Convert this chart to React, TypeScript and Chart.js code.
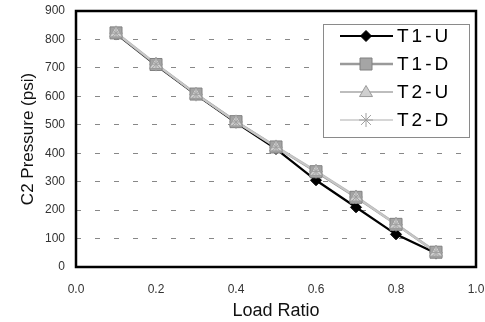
import React, { useEffect, useRef } from "react";
import { Chart, registerables } from "chart.js";

Chart.register(...registerables);

const loadRatio = [0.1, 0.2, 0.3, 0.4, 0.5, 0.6, 0.7, 0.8, 0.9];
const t1u = [820, 710, 606, 508, 415, 305, 210, 115, 48];
const t1d = [823, 712, 608, 511, 422, 335, 245, 150, 52];
const t2u = [825, 714, 609, 512, 424, 338, 248, 152, 54];
const t2d = [822, 713, 607, 510, 421, 336, 246, 149, 51];
const seriesNames = ["T1-U", "T1-D", "T2-U", "T2-D"];
const xTicks = [0, 0.2, 0.4, 0.6, 0.8, 1.0];

const FONT = "'Liberation Sans', Arial, sans-serif";

type Style = {
  line: string;
  width: number;
  shape: string;
  fill: string;
  stroke: string;
  r: number;
};

const styles: Style[] = [
  { line: "#000000", width: 2.2, shape: "diamond", fill: "#000000", stroke: "#000000", r: 5.5 },
  { line: "#9a9a9a", width: 2.5, shape: "square", fill: "#a5a5a5", stroke: "#808080", r: 6 },
  { line: "#bdbdbd", width: 2, shape: "triangle", fill: "#cfcfcf", stroke: "#9a9a9a", r: 6.5 },
  { line: "#c8c8c8", width: 1.5, shape: "star", fill: "#dddddd", stroke: "#a0a0a0", r: 7 },
];

function drawMarker(ctx: CanvasRenderingContext2D, s: Style, x: number, y: number) {
  ctx.save();
  ctx.fillStyle = s.fill;
  ctx.strokeStyle = s.stroke;
  ctx.lineWidth = 1;
  const r = s.r;
  ctx.beginPath();
  if (s.shape === "diamond") {
    ctx.moveTo(x, y - r);
    ctx.lineTo(x + r, y);
    ctx.lineTo(x, y + r);
    ctx.lineTo(x - r, y);
    ctx.closePath();
    ctx.fill();
    ctx.stroke();
  } else if (s.shape === "square") {
    ctx.rect(x - r, y - r, 2 * r, 2 * r);
    ctx.fill();
    ctx.stroke();
  } else if (s.shape === "triangle") {
    ctx.moveTo(x, y - r);
    ctx.lineTo(x + r, y + r * 0.7);
    ctx.lineTo(x - r, y + r * 0.7);
    ctx.closePath();
    ctx.fill();
    ctx.stroke();
  } else {
    for (let i = 0; i < 4; i++) {
      const a = (i * Math.PI) / 4;
      ctx.moveTo(x - r * Math.cos(a), y - r * Math.sin(a));
      ctx.lineTo(x + r * Math.cos(a), y + r * Math.sin(a));
    }
    ctx.stroke();
  }
  ctx.restore();
}

const framePlugin = {
  id: "frameAndLegend",
  afterDraw(chart: any) {
    const { ctx, chartArea } = chart;
    const { left, right, top, bottom } = chartArea;
    ctx.save();
    ctx.strokeStyle = "#000";
    ctx.lineWidth = 2.5;
    ctx.strokeRect(left, top, right - left, bottom - top);

    const bx = right - 153;
    const by = top + 13;
    const bw = 146;
    const bh = 113;
    ctx.fillStyle = "#ffffff";
    ctx.fillRect(bx, by, bw, bh);
    ctx.strokeStyle = "#8a8a8a";
    ctx.lineWidth = 1;
    ctx.strokeRect(bx + 0.5, by + 0.5, bw, bh);
    seriesNames.forEach((name, i) => {
      const s = styles[i];
      const y = by + 12 + i * 28;
      ctx.strokeStyle = s.line;
      ctx.lineWidth = s.width;
      ctx.beginPath();
      ctx.moveTo(bx + 17, y);
      ctx.lineTo(bx + 70, y);
      ctx.stroke();
      drawMarker(ctx, s, bx + 43, y);
      ctx.fillStyle = "#000";
      ctx.font = `19px ${FONT}`;
      (ctx as any).letterSpacing = "3px";
      ctx.textAlign = "left";
      ctx.textBaseline = "middle";
      ctx.fillText(name, bx + 74, y + 1);
      (ctx as any).letterSpacing = "0px";
    });
    ctx.restore();
  },
};

export default function App() {
  const ref = useRef<HTMLCanvasElement | null>(null);

  useEffect(() => {
    if (!ref.current) return;
    const seriesValues = [t1u, t1d, t2u, t2d];
    const order = [4, 3, 2, 1];
    const datasets = seriesValues.map((vals, i) => {
      const s = styles[i];
      return {
        label: seriesNames[i],
        data: loadRatio.map((x, j) => ({ x, y: vals[j] })),
        borderColor: s.line,
        borderWidth: s.width,
        backgroundColor: s.fill,
        pointRadius: 0,
        pointHoverRadius: 0,
        showLine: true,
        order: order[i],
        tension: 0,
      };
    });

    const markerPlugin = {
      id: "customMarkers",
      afterDatasetsDraw(chart: any) {
        const ctx = chart.ctx;
        for (let i = 0; i < seriesValues.length; i++) {
          const meta = chart.getDatasetMeta(i);
          meta.data.forEach((pt: any) => drawMarker(ctx, styles[i], pt.x, pt.y));
        }
      },
    };

    const chart = new Chart(ref.current, {
      type: "scatter",
      data: { datasets },
      plugins: [markerPlugin, framePlugin],
      options: {
        animation: false,
        responsive: false,
        devicePixelRatio: 1,
        layout: { padding: { top: 11, right: 9, left: 0, bottom: 0 } },
        plugins: { legend: { display: false }, tooltip: { enabled: false } },
        scales: {
          x: {
            type: "linear",
            min: 0,
            max: 1,
            afterBuildTicks: (scale: any) => {
              scale.ticks = xTicks.map((v) => ({ value: v }));
            },
            afterFit: (scale: any) => {
              scale.height = 55;
              scale.paddingLeft = 0;
              scale.paddingRight = 0;
            },
            grid: { display: false, drawTicks: false },
            border: { display: false },
            ticks: {
              padding: 15,
              color: "#333",
              font: { family: FONT, size: 12 },
              maxRotation: 0,
              callback: (v: any) => Number(v).toFixed(1),
            },
            title: {
              display: true,
              text: "Load Ratio",
              color: "#111",
              font: { family: FONT, size: 18 },
              padding: { top: 0, bottom: 0 },
            },
          },
          y: {
            min: 0,
            max: 900,
            afterFit: (scale: any) => {
              scale.width = 76;
              scale.paddingTop = 0;
              scale.paddingBottom = 0;
            },
            grid: {
              color: "#888",
              lineWidth: 1,
              drawTicks: false,
            },
            border: { display: false, dash: [5, 14] },
            ticks: {
              stepSize: 100,
              padding: 11,
              color: "#333",
              font: { family: FONT, size: 12 },
            },
            title: {
              display: true,
              text: "C2 Pressure (psi)",
              color: "#111",
              font: { family: FONT, size: 17 },
              padding: { top: 18, bottom: 0 },
            },
          },
        },
      },
    } as any);
    return () => chart.destroy();
  }, []);

  return (
    <div style={{ position: "fixed", left: 0, top: 0, width: 485, height: 322, background: "#fff" }}>
      <canvas ref={ref} width={485} height={322} style={{ width: 485, height: 322 }} />
    </div>
  );
}
